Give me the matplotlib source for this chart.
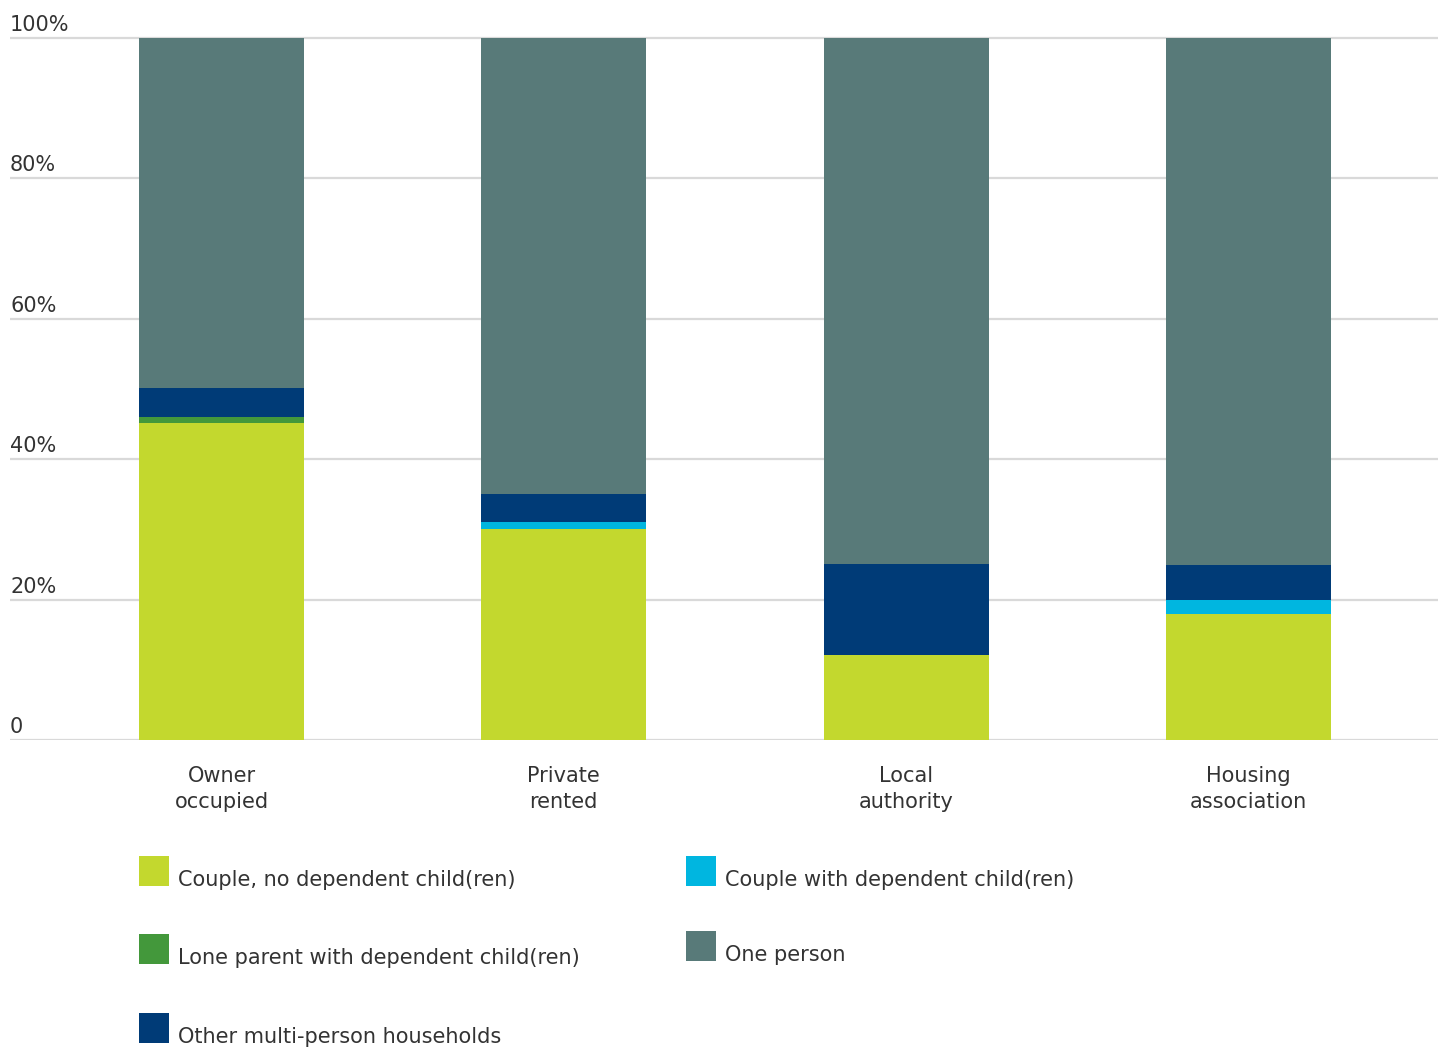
import matplotlib
matplotlib.use("Agg")
import matplotlib.pyplot as plt
from matplotlib.patches import Rectangle
import numpy as np

plt.rcParams['font.family'] = ['DejaVu Sans']

categories = ["Owner\noccupied", "Private\nrented", "Local\nauthority", "Housing\nassociation"]
series_names = ["Couple, no dependent child(ren)", "Lone parent with dependent child(ren)",
                "Other multi-person households", "Couple with dependent child(ren)", "One person"]
couple_no_dep = [45.1, 30.0, 12.1, 18.0]
couple_with_dep = [0.0, 1.0, 0.0, 2.0]
lone_parent = [0.9, 0.0, 0.0, 0.0]
other_multi = [4.1, 4.0, 13.0, 5.0]
one_person = [49.9, 65.0, 74.9, 75.0]
yticks = [0, 20, 40, 60, 80, 100]
ytick_labels = ["0", "20%", "40%", "60%", "80%", "100%"]

colors = {
    "couple_no": "#C3D82E",
    "couple_with": "#00B6E0",
    "lone": "#43983B",
    "other": "#003B77",
    "one": "#587A79",
}

W, H = 1438, 1048
fig = plt.figure(figsize=(W / 100, H / 100), dpi=100)
ax_left, ax_right = 10, 1438
ax_bottom_px = 740
ymax = 100.5
px_per_unit = (740 - 38) / 100
ax_top_px = 740 - ymax * px_per_unit
ax = fig.add_axes([ax_left / W, (H - ax_bottom_px) / H, (ax_right - ax_left) / W, (ax_bottom_px - ax_top_px) / H])

x = np.arange(len(categories))
width = 0.482
stack_order = [
    (couple_no_dep, colors["couple_no"]),
    (lone_parent, colors["lone"]),
    (couple_with_dep, colors["couple_with"]),
    (other_multi, colors["other"]),
    (one_person, colors["one"]),
]
bottom = np.zeros(len(categories))
for vals, c in stack_order:
    v = np.array(vals)
    ax.bar(x, v, width, bottom=bottom, color=c, zorder=3, linewidth=0)
    bottom += v

ax.set_xlim(-0.618, 3.554)
ax.set_ylim(0, ymax)
ax.set_yticks(yticks)
ax.yaxis.grid(True, color="#D9D9D9", linewidth=1.6, zorder=0)
ax.tick_params(left=False, bottom=False, labelleft=False, labelbottom=False)
for s in ax.spines.values():
    s.set_visible(False)

txt_color = "#333333"
fs = 15
for v, lab in zip(yticks, ytick_labels):
    ax.annotate(lab, xy=(0, v), xycoords=("axes fraction", "data"), xytext=(0, 3),
                textcoords="offset pixels", ha="left", va="bottom", fontsize=fs, color=txt_color)
for xi, lab in zip(x, categories):
    ax.annotate(lab, xy=(xi, 0), xycoords=("data", "data"), xytext=(0, -26),
                textcoords="offset pixels", ha="center", va="top", fontsize=fs, color=txt_color,
                linespacing=1.35)

# legend (manual)
legend_items = [
    (series_names[0], colors["couple_no"], 139, 856),
    (series_names[1], colors["lone"], 139, 934),
    (series_names[2], colors["other"], 139, 1013),
    (series_names[3], colors["couple_with"], 686, 856),
    (series_names[4], colors["one"], 686, 931),
]
for lab, c, px, py in legend_items:
    fig.add_artist(Rectangle((px / W, 1 - (py + 30) / H), 30 / W, 30 / H, transform=fig.transFigure,
                             facecolor=c, edgecolor="none"))
    fig.text((px + 39) / W, 1 - (py + 24) / H, lab, ha="left", va="center", fontsize=fs, color=txt_color)

fig.savefig("out.png", dpi=100)
